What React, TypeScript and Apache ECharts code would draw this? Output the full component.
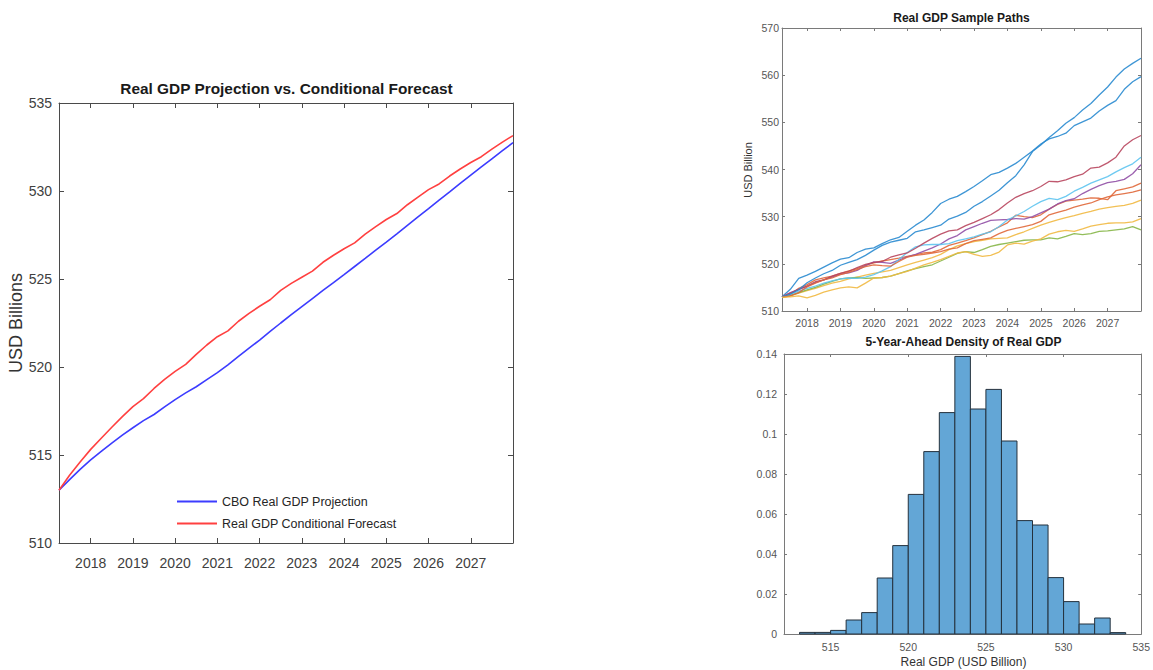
import React, { useEffect, useRef } from "react";
import * as echarts from "echarts";

// ---- Projection vs. conditional forecast (quarterly, 2017Q2 .. 2028) ----
const startYear = 2017.25;
const quarterStep = 0.25;

const cboProjection = [
  513.0, 513.6, 514.18, 514.72, 515.2, 515.68, 516.13, 516.55, 516.95, 517.3, 517.73,
  518.15, 518.53, 518.88, 519.28, 519.68, 520.12, 520.6, 521.07, 521.53, 522.02, 522.5,
  522.97, 523.43, 523.89, 524.35, 524.8, 525.25, 525.71, 526.17, 526.64, 527.1, 527.57,
  528.05, 528.53, 529.0, 529.48, 529.95, 530.43, 530.9, 531.37, 531.83, 532.29, 532.75,
];

const conditionalForecast = [
  513.0, 513.85, 514.6, 515.32, 515.95, 516.58, 517.18, 517.75, 518.2, 518.78, 519.3,
  519.75, 520.15, 520.72, 521.25, 521.72, 522.05, 522.6, 523.05, 523.45, 523.82, 524.35,
  524.75, 525.1, 525.45, 525.95, 526.35, 526.72, 527.05, 527.55, 527.98, 528.38, 528.72,
  529.22, 529.65, 530.08, 530.4, 530.85, 531.25, 531.62, 531.95, 532.38, 532.78, 533.15,
];

// ---- Simulated sample paths (same quarterly dates) ----
const pathBlue1 = [
  513.0, 514.6, 516.9, 517.6, 518.4, 519.3, 520.2, 521.0, 521.3, 522.4, 523.1,
  523.4, 524.3, 525.1, 525.6, 526.9, 528.2, 529.3, 530.9, 532.8, 533.7, 534.3,
  535.3, 536.4, 537.6, 538.9, 539.4, 540.3, 541.3, 542.6, 543.9, 545.4, 546.5,
  547.0, 547.7, 549.3, 550.1, 550.9, 552.4, 553.6, 554.6, 557.0, 558.6, 559.7,
];
const pathOrange1 = [
  513.0, 513.5, 514.8, 515.6, 516.6, 517.0, 517.4, 518.0, 518.5, 519.0, 519.7,
  520.2, 520.6, 520.9, 521.2, 521.6, 521.9, 522.3, 522.5, 523.0, 523.9, 524.4,
  524.9, 525.5, 526.2, 526.9, 527.8, 528.7, 530.3, 530.0, 529.8, 530.4, 531.6,
  532.6, 533.3, 533.5, 533.7, 534.0, 533.9, 533.6, 535.5, 535.9, 536.3, 537.1,
];
const pathYellow1 = [
  512.9, 513.2, 513.8, 514.3, 514.8, 515.4, 515.9, 516.3, 516.8, 517.2, 517.6,
  518.0, 518.3, 518.6, 519.2, 519.8, 520.3, 520.8, 521.3, 522.0, 523.0, 523.8,
  524.3, 524.7, 525.0, 525.3, 525.4, 525.5, 526.2, 526.8, 527.5, 528.2, 528.8,
  529.3, 529.8, 530.2, 530.7, 531.1, 531.6, 531.9, 532.2, 532.4, 532.8, 533.5,
];
const pathPurple = [
  513.0, 513.9, 514.6, 515.2, 516.0, 516.6, 517.2, 517.8, 518.1, 518.6, 519.6,
  520.4, 520.3, 520.1, 520.8, 521.5, 522.0, 522.7, 523.4, 524.2, 525.3, 526.0,
  527.2, 527.9, 528.6, 529.2, 529.3, 529.4, 529.6, 529.5, 530.0, 530.8, 531.6,
  532.7, 533.4, 533.8, 534.9, 535.8, 536.6, 537.2, 537.5, 537.9, 539.1, 541.0,
];
const pathGreen = [
  513.0, 513.3, 513.9, 514.5, 515.0, 515.7, 516.3, 516.8, 517.0, 517.1, 516.9,
  517.0, 517.1, 517.4, 517.9, 518.5, 519.0, 519.4, 519.8, 520.6, 521.4, 522.2,
  522.6, 522.4, 523.0, 523.7, 524.1, 524.4, 524.7, 525.0, 525.1, 525.1, 525.5,
  525.3, 525.8, 526.4, 526.2, 526.4, 526.9, 527.0, 527.2, 527.4, 527.9, 527.2,
];
const pathCyan = [
  513.0, 513.5, 514.2, 514.8, 515.3, 515.9, 516.4, 516.8, 517.0, 516.9, 517.2,
  517.7, 518.5, 519.4, 520.9, 522.4, 523.6, 524.0, 524.1, 524.1, 524.3, 524.9,
  525.3, 525.7, 526.3, 526.8, 527.9, 529.3, 530.2, 531.1, 532.2, 533.2, 533.9,
  533.6, 534.3, 535.4, 536.2, 537.1, 537.8, 538.5, 539.5, 540.4, 541.2, 542.6,
];
const pathRed = [
  513.0, 513.8, 514.6, 515.3, 516.2, 516.6, 517.4, 518.0, 518.4, 519.2, 519.9,
  520.3, 520.5, 521.4, 521.9, 522.3, 523.3, 524.4, 525.4, 526.3, 527.0, 527.2,
  528.1, 528.8, 529.6, 530.4, 531.5, 532.9, 534.1, 534.9, 535.5, 536.4, 537.5,
  537.4, 537.8, 538.5, 539.0, 540.3, 540.5, 541.4, 542.6, 545.0, 546.3, 547.2,
];
const pathBlue2 = [
  513.0, 513.6, 514.5, 516.0, 517.0, 517.9, 518.6, 519.7, 520.3, 520.9, 521.8,
  522.9, 523.9, 524.6, 525.0, 525.4, 526.8, 527.2, 527.7, 528.2, 529.5, 530.1,
  530.9, 532.2, 533.2, 534.4, 535.6, 537.2, 538.7, 541.0, 543.8, 545.2, 546.8,
  548.2, 549.8, 551.0, 552.6, 554.0, 555.8, 557.5, 559.6, 561.3, 562.5, 563.6,
];
const pathOrange2 = [
  512.9, 513.2, 513.9, 515.1, 515.9, 516.6, 517.0, 517.7, 518.2, 518.8, 519.4,
  519.8, 519.6, 519.5, 520.5, 521.4, 521.8, 522.0, 522.3, 522.6, 523.1, 523.4,
  524.3, 524.9, 525.2, 525.5, 526.4, 527.1, 527.5, 527.9, 528.3, 529.0, 530.4,
  530.9, 531.4, 532.0, 532.5, 532.9, 533.6, 534.2, 534.6, 534.9, 535.2, 535.7,
];
const pathYellow2 = [
  512.9, 513.0, 513.2, 512.8, 513.3, 514.0, 514.5, 514.9, 515.1, 514.9, 515.9,
  517.0, 517.1, 517.4, 517.9, 518.4, 519.1, 519.8, 520.3, 520.9, 521.6, 522.3,
  522.6, 522.0, 521.6, 521.8, 522.5, 524.0, 524.4, 524.2, 524.8, 525.3, 526.3,
  526.8, 527.1, 526.9, 527.4, 528.0, 528.3, 528.6, 528.7, 528.7, 528.9, 529.6,
];

// ---- 5-year-ahead density histogram (bin width 1) ----
const binLeftEdges = [
  513, 514, 515, 516, 517, 518, 519, 520, 521, 522, 523,
  524, 525, 526, 527, 528, 529, 530, 531, 532, 533,
];
const binDensity = [
  0.0008, 0.0008, 0.0018, 0.007, 0.0107, 0.028, 0.0442, 0.0698, 0.0912, 0.1107, 0.1388,
  0.1125, 0.1223, 0.0965, 0.0567, 0.0545, 0.0282, 0.0162, 0.005, 0.008, 0.0007,
];
const binWidth = 1;

// ---- Tick labels ----
const yearTicks = [2018, 2019, 2020, 2021, 2022, 2023, 2024, 2025, 2026, 2027];
const gdpTicks = [515, 520, 525, 530, 535];

const FONT = '"Liberation Sans", Arial, Helvetica, sans-serif';

const pathSeries = [
  { name: "Path 1", data: pathBlue1, color: "#2a8bd0" },
  { name: "Path 2", data: pathOrange1, color: "#e0683a" },
  { name: "Path 3", data: pathYellow1, color: "#f1b943" },
  { name: "Path 4", data: pathPurple, color: "#9150a6" },
  { name: "Path 5", data: pathGreen, color: "#86b648" },
  { name: "Path 6", data: pathCyan, color: "#5ec4ef" },
  { name: "Path 7", data: pathRed, color: "#b8465e" },
  { name: "Path 8", data: pathBlue2, color: "#2a8bd0" },
  { name: "Path 9", data: pathOrange2, color: "#e0683a" },
  { name: "Path 10", data: pathYellow2, color: "#f1b943" },
];

const toPairs = (vals: number[]) => vals.map((v, i) => [startYear + quarterStep * i, v]);

// Builds a boxed axis pair: the labelled one plus a mirrored one on the opposite side.
function boxAxes(
  grid: number,
  kind: "x" | "y",
  base: any,
  labelStyle: any,
  lineColor: string,
  tickLen: number
) {
  const { tickValues, ...range } = base;
  const common = {
    gridIndex: grid,
    type: "value",
    ...range,
    splitLine: { show: false },
    axisLine: { show: true, onZero: false, lineStyle: { color: lineColor, width: 1 } },
  };
  const tickCfg: any = { show: true, inside: true, length: tickLen, lineStyle: { color: lineColor } };
  const labelCfg: any = { ...labelStyle };
  if (tickValues) {
    tickCfg.customValues = tickValues;
    labelCfg.customValues = tickValues;
  }
  const main = {
    ...common,
    position: kind === "x" ? "bottom" : "left",
    axisTick: tickCfg,
    axisLabel: labelCfg,
  };
  const mirror = {
    ...common,
    position: kind === "x" ? "top" : "right",
    axisTick: tickCfg,
    axisLabel: { show: false },
  };
  return [main, mirror];
}

export default function App() {
  const ref = useRef<HTMLDivElement>(null);

  useEffect(() => {
    if (!ref.current) return;
    const chart = echarts.init(ref.current, null, { renderer: "svg" });

    const bigLabel = { fontFamily: FONT, fontSize: 14, color: "#404040" };
    const smallLabel = { fontFamily: FONT, fontSize: 10.5, color: "#555555" };
    const yearFmt = (v: number) => String(Math.round(v));

    const xAxes = [
      ...boxAxes(0, "x", { min: 2017.25, max: 2028, tickValues: yearTicks },
        { ...bigLabel, margin: 13, formatter: yearFmt }, "#4a4a4a", 5),
      ...boxAxes(1, "x", { min: 2017.25, max: 2028, tickValues: yearTicks },
        { ...smallLabel, margin: 6, formatter: yearFmt }, "#7a7a7a", 3),
      ...boxAxes(2, "x", { min: 512, max: 535, tickValues: gdpTicks },
        { ...smallLabel, margin: 7, formatter: yearFmt }, "#7a7a7a", 3),
    ];

    const yAxes = [
      ...boxAxes(0, "y", { min: 510, max: 535, interval: 5 }, { ...bigLabel, margin: 7 }, "#4a4a4a", 5),
      ...boxAxes(1, "y", { min: 510, max: 570, interval: 10 }, { ...smallLabel, margin: 3 }, "#7a7a7a", 3),
      ...boxAxes(2, "y", { min: 0, max: 0.14, interval: 0.02 }, { ...smallLabel, margin: 7 }, "#7a7a7a", 3),
    ];

    const histData = binLeftEdges.map((lo, i) => [lo, lo + binWidth, binDensity[i]]);

    const titleText = (text: string, x: number, y: number, size: number) => ({
      type: "text",
      x,
      y,
      style: {
        text,
        fontFamily: FONT,
        fontSize: size,
        fontWeight: "bold",
        fill: "#1a1a1a",
        textAlign: "center",
        textVerticalAlign: "middle",
      },
    });
    const nameText = (text: string, x: number, y: number, size: number, rotated: boolean) => ({
      type: "text",
      x,
      y,
      rotation: rotated ? Math.PI / 2 : 0,
      style: {
        text,
        fontFamily: FONT,
        fontSize: size,
        fill: "#333333",
        textAlign: "center",
        textVerticalAlign: "middle",
      },
    });

    const option: any = {
      animation: false,
      backgroundColor: "#ffffff",
      textStyle: { fontFamily: FONT },
      grid: [
        { left: 59, top: 103, width: 454, height: 440 },
        { left: 782, top: 28, width: 359, height: 283 },
        { left: 784, top: 354, width: 359, height: 280 },
      ],
      xAxis: xAxes,
      yAxis: yAxes,
      legend: {
        data: [
          { name: "CBO Real GDP Projection", icon: "rect" },
          { name: "Real GDP Conditional Forecast", icon: "rect" },
        ],
        orient: "vertical",
        left: 177,
        top: 494,
        itemWidth: 40,
        itemHeight: 1.8,
        itemGap: 7,
        padding: 0,
        textStyle: { fontFamily: FONT, fontSize: 12.5, color: "#262626", lineHeight: 15 },
      },
      graphic: [
        titleText("Real GDP Projection vs. Conditional Forecast", 286.5, 88, 15.4),
        nameText("USD Billions", 16, 323, 18, true),
        titleText("Real GDP Sample Paths", 961.5, 18, 12),
        nameText("USD Billion", 748, 170, 11, true),
        titleText("5-Year-Ahead Density of Real GDP", 963.5, 342, 12),
        nameText("Real GDP (USD Billion)", 963.5, 662, 12, false),
      ],
      series: [
        {
          name: "CBO Real GDP Projection",
          type: "line",
          xAxisIndex: 0,
          yAxisIndex: 0,
          data: toPairs(cboProjection),
          symbol: "none",
          color: "#3c3cff",
          lineStyle: { width: 1.6, color: "#3c3cff" },
        },
        {
          name: "Real GDP Conditional Forecast",
          type: "line",
          xAxisIndex: 0,
          yAxisIndex: 0,
          data: toPairs(conditionalForecast),
          symbol: "none",
          color: "#ff4040",
          lineStyle: { width: 1.6, color: "#ff4040" },
        },
        ...pathSeries.map((p) => ({
          name: p.name,
          type: "line",
          xAxisIndex: 2,
          yAxisIndex: 2,
          data: toPairs(p.data),
          symbol: "none",
          color: p.color,
          lineStyle: { width: 1.3, color: p.color, opacity: 0.9 },
        })),
        {
          name: "Density",
          type: "custom",
          xAxisIndex: 4,
          yAxisIndex: 4,
          data: histData,
          encode: { x: [0, 1], y: 2 },
          renderItem: (_params: any, api: any) => {
            const topLeft = api.coord([api.value(0), api.value(2)]);
            const bottomRight = api.coord([api.value(1), 0]);
            return {
              type: "rect",
              shape: {
                x: topLeft[0],
                y: topLeft[1],
                width: bottomRight[0] - topLeft[0],
                height: bottomRight[1] - topLeft[1],
              },
              style: { fill: "#63a6d6", stroke: "#24313d", lineWidth: 1 },
            };
          },
        },
      ],
    };

    chart.setOption(option);
    return () => chart.dispose();
  }, []);

  return (
    <div
      ref={ref}
      style={{ position: "fixed", left: 0, top: 0, width: 1153, height: 670, background: "#ffffff" }}
    />
  );
}
